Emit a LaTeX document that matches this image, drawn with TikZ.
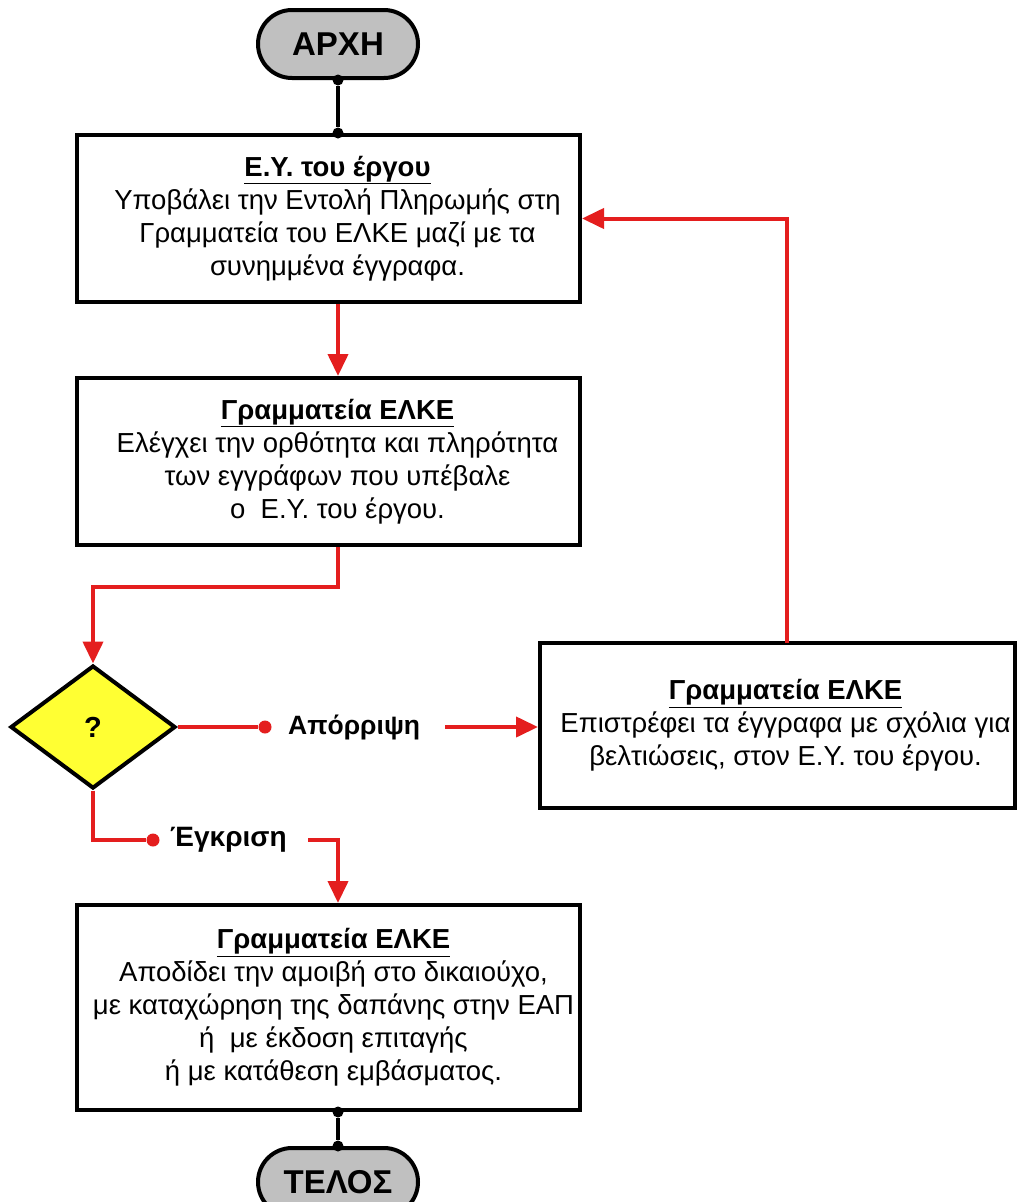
\documentclass[tikz,border=0pt]{standalone}
\usepackage{fontspec}
\setmainfont{Liberation Sans}
\usetikzlibrary{shapes.geometric,arrows.meta}
\definecolor{fred}{HTML}{E41E1E}
\definecolor{fgray}{HTML}{C0C0C0}
\definecolor{fyel}{HTML}{FFFF33}
\tikzset{
  procbox/.style={draw=black,line width=4pt,fill=white,inner sep=0pt},
  boxtext/.style={align=center,inner sep=0pt,xshift=9pt,font=\fontsize{27.5}{33}\selectfont},
  term/.style={draw=black,line width=4pt,fill=fgray,rounded corners=34pt,
    minimum width=160pt,minimum height=68pt,font=\fontsize{33}{36}\selectfont\bfseries},
  decis/.style={diamond,draw=black,line width=4pt,fill=fyel,minimum width=165pt,
    minimum height=123pt,inner sep=0pt,font=\fontsize{29}{30}\selectfont\bfseries},
  rline/.style={draw=fred,line width=4pt},
  rarrow/.style={draw=fred,line width=4pt,-{Triangle[length=22pt,width=20pt]}},
  bline/.style={draw=black,line width=4pt},
  bdot/.style={circle,fill=black,inner sep=0pt,minimum size=11pt},
  rdot/.style={circle,fill=fred,inner sep=0pt,minimum size=13pt},
  lbl/.style={font=\fontsize{26.5}{30}\selectfont\bfseries,inner sep=0pt},
}
\begin{document}
\begin{tikzpicture}[x=1pt,y=-1pt]
\useasboundingbox[fill=white] (0,0) rectangle (1020,1202);
\begin{scope}
\clip (0,0) rectangle (1020,1202);
\node[term] (start) at (338,44) {ΑΡΧΗ};
\node[procbox,minimum width=503pt,minimum height=167pt] (b1) at (328.5,218.5) {};
\node[boxtext] (t1) at (b1.center)
  {\underline{\textbf{Ε.Υ. του έργου}}\\Υποβάλει την Εντολή Πληρωμής στη\\Γραμματεία του ΕΛΚΕ μαζί με τα\\συνημμένα έγγραφα.};
\node[procbox,minimum width=503pt,minimum height=167pt] (b2) at (328.5,461.5) {};
\node[boxtext] (t2) at (b2.center)
  {\underline{\textbf{Γραμματεία ΕΛΚΕ}}\\Ελέγχει την ορθότητα και πληρότητα\\των εγγράφων που υπέβαλε\\ο\ \ Ε.Υ. του έργου.};
\node[decis] (dec) at (93,727) {?};
\node[procbox,minimum width=475pt,minimum height=165pt] (b3) at (777.5,725.5) {};
\node[boxtext,xshift=-1pt] (t3) at (b3.center)
  {\underline{\textbf{Γραμματεία ΕΛΚΕ}}\\Επιστρέφει τα έγγραφα με σχόλια για\\βελτιώσεις, στον Ε.Υ. του έργου.};
\node[procbox,minimum width=503pt,minimum height=205pt] (b4) at (328.5,1007.5) {};
\node[boxtext,xshift=-4pt] (t4) at (b4.center)
  {\underline{\textbf{Γραμματεία ΕΛΚΕ}}\\Αποδίδει την αμοιβή στο δικαιούχο,\\με καταχώρηση της δαπάνης στην ΕΑΠ\\ή\ \ με έκδοση επιταγής\\ή με κατάθεση εμβάσματος.};
\node[term] (end) at (338,1182) {ΤΕΛΟΣ};

% attachment points on the main vertical axis
\coordinate (b1top) at (start.south |- b1.north);
\coordinate (b1bot) at (start.south |- b1.south);
\coordinate (b2top) at (start.south |- b2.north);
\coordinate (b2bot) at (start.south |- b2.south);
\coordinate (b4top) at (start.south |- b4.north);
\coordinate (b4bot) at (end.north |- b4.south);

% black connectors
\node[bdot] (d1) at (start.south) {};
\node[bdot] (d2) at (b1top) {};
\draw[bline] (d1) -- (d2);
\node[bdot] (d3) at (b4bot) {};
\node[bdot] (d4) at (end.north) {};
\draw[bline] (d3) -- (d4);

% red flow
\draw[rarrow] (b1bot) -- (b2top);
\draw[rarrow] (b2bot) -- ++(0,40) -| (dec.north);

\node[rdot] (ra) at (265,727) {};
\draw[rline] (dec.east) -- (ra);
\node[lbl,anchor=west] (la) at (288,727) {Απόρριψη};
\coordinate (la2) at (445,727);
\draw[rarrow] (la2) -- (la2 -| b3.west);
\coordinate (b3t) at (787,643);
\draw[rarrow] (b3t) |- (b1.east);

\node[rdot] (rb) at (153,840) {};
\draw[rline] (dec.south) |- (rb);
\node[lbl,anchor=west,font=\fontsize{28}{30}\selectfont\bfseries] (lb) at (170,840) {Έγκριση};
\coordinate (lb2) at (308,840);
\draw[rarrow] (lb2) -| (b4top);
\end{scope}
\end{tikzpicture}
\end{document}
